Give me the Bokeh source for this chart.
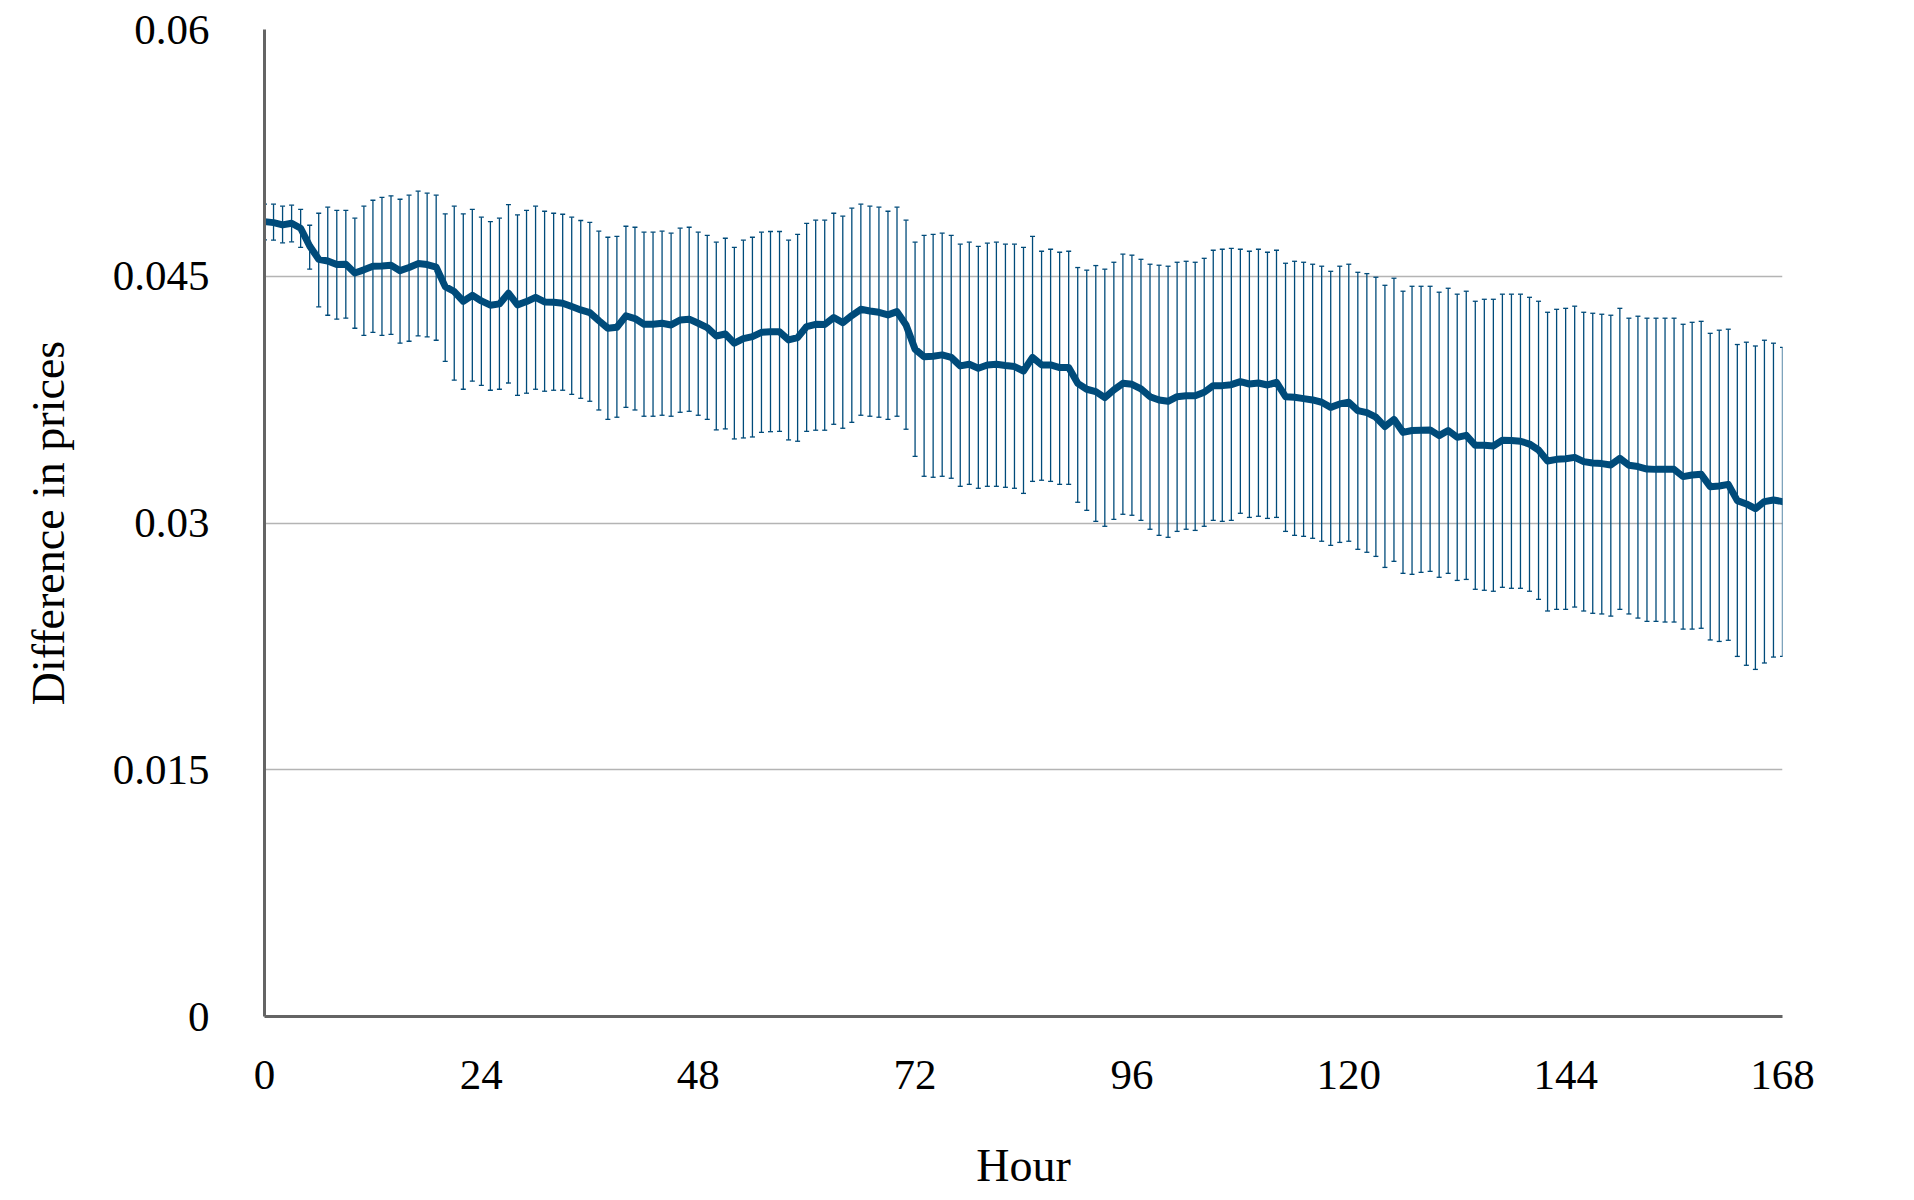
from bokeh.plotting import figure
from bokeh.models import ColumnDataSource, Whisker, TeeHead, FixedTicker, Range1d
from bokeh.embed import file_html
from bokeh.resources import INLINE

hours = list(range(169))

mean_diff = [
    0.04832, 0.04826, 0.04812, 0.04822, 0.04792, 0.04684, 0.04603, 0.04593, 0.04571, 0.04573,
    0.04520, 0.04539, 0.04561, 0.04563, 0.04567, 0.04534, 0.04553, 0.04577, 0.04571, 0.04555,
    0.04437, 0.04407, 0.04348, 0.04384, 0.04350, 0.04324, 0.04332, 0.04397, 0.04326, 0.04346,
    0.04372, 0.04344, 0.04342, 0.04336, 0.04316, 0.04295, 0.04279, 0.04230, 0.04184, 0.04190,
    0.04259, 0.04243, 0.04208, 0.04208, 0.04214, 0.04204, 0.04234, 0.04239, 0.04214, 0.04188,
    0.04137, 0.04149, 0.04093, 0.04121, 0.04133, 0.04159, 0.04162, 0.04162, 0.04113, 0.04127,
    0.04194, 0.04208, 0.04206, 0.04249, 0.04218, 0.04261, 0.04299, 0.04289, 0.04281, 0.04265,
    0.04285, 0.04204, 0.04056, 0.04011, 0.04014, 0.04022, 0.04007, 0.03955, 0.03965, 0.03941,
    0.03961, 0.03965, 0.03957, 0.03951, 0.03924, 0.04007, 0.03961, 0.03961, 0.03945, 0.03945,
    0.03849, 0.03813, 0.03799, 0.03762, 0.03809, 0.03849, 0.03843, 0.03815, 0.03768, 0.03748,
    0.03740, 0.03768, 0.03774, 0.03774, 0.03795, 0.03835, 0.03835, 0.03841, 0.03859, 0.03845,
    0.03851, 0.03839, 0.03855, 0.03768, 0.03764, 0.03756, 0.03748, 0.03734, 0.03703, 0.03724,
    0.03734, 0.03683, 0.03671, 0.03643, 0.03586, 0.03630, 0.03551, 0.03562, 0.03564, 0.03566,
    0.03531, 0.03562, 0.03521, 0.03533, 0.03472, 0.03472, 0.03468, 0.03503, 0.03501, 0.03497,
    0.03480, 0.03444, 0.03377, 0.03387, 0.03391, 0.03399, 0.03373, 0.03365, 0.03361, 0.03353,
    0.03393, 0.03351, 0.03343, 0.03328, 0.03326, 0.03326, 0.03326, 0.03282, 0.03292, 0.03296,
    0.03221, 0.03225, 0.03235, 0.03136, 0.03116, 0.03087, 0.03130, 0.03140, 0.03130,
]

upper_diff = [
    0.04938, 0.04938, 0.04926, 0.04932, 0.04907, 0.04810, 0.04883, 0.04920, 0.04901, 0.04901,
    0.04853, 0.04926, 0.04962, 0.04980, 0.04989, 0.04968, 0.04993, 0.05017, 0.05005, 0.04993,
    0.04879, 0.04926, 0.04879, 0.04907, 0.04859, 0.04832, 0.04853, 0.04936, 0.04873, 0.04901,
    0.04926, 0.04895, 0.04883, 0.04877, 0.04859, 0.04839, 0.04828, 0.04774, 0.04737, 0.04743,
    0.04804, 0.04798, 0.04768, 0.04768, 0.04774, 0.04762, 0.04792, 0.04798, 0.04768, 0.04749,
    0.04707, 0.04731, 0.04676, 0.04719, 0.04737, 0.04768, 0.04772, 0.04772, 0.04719, 0.04755,
    0.04822, 0.04841, 0.04841, 0.04883, 0.04865, 0.04914, 0.04938, 0.04926, 0.04920, 0.04895,
    0.04920, 0.04841, 0.04707, 0.04749, 0.04755, 0.04762, 0.04749, 0.04695, 0.04707, 0.04682,
    0.04701, 0.04707, 0.04695, 0.04695, 0.04676, 0.04743, 0.04652, 0.04664, 0.04646, 0.04652,
    0.04553, 0.04537, 0.04565, 0.04543, 0.04585, 0.04634, 0.04628, 0.04603, 0.04573, 0.04567,
    0.04561, 0.04585, 0.04591, 0.04585, 0.04609, 0.04658, 0.04664, 0.04670, 0.04664, 0.04652,
    0.04664, 0.04646, 0.04658, 0.04579, 0.04591, 0.04585, 0.04573, 0.04561, 0.04530, 0.04561,
    0.04573, 0.04524, 0.04516, 0.04494, 0.04445, 0.04488, 0.04409, 0.04439, 0.04439, 0.04439,
    0.04403, 0.04427, 0.04391, 0.04409, 0.04348, 0.04360, 0.04360, 0.04391, 0.04391, 0.04391,
    0.04372, 0.04348, 0.04281, 0.04299, 0.04305, 0.04318, 0.04281, 0.04275, 0.04269, 0.04263,
    0.04305, 0.04245, 0.04257, 0.04245, 0.04245, 0.04245, 0.04245, 0.04208, 0.04220, 0.04226,
    0.04153, 0.04172, 0.04178, 0.04085, 0.04099, 0.04076, 0.04111, 0.04093, 0.04068,
]

lower_diff = [
    0.04721, 0.04719, 0.04703, 0.04709, 0.04676, 0.04543, 0.04314, 0.04263, 0.04239, 0.04245,
    0.04184, 0.04141, 0.04159, 0.04141, 0.04147, 0.04093, 0.04105, 0.04137, 0.04131, 0.04111,
    0.03983, 0.03868, 0.03813, 0.03862, 0.03837, 0.03807, 0.03813, 0.03851, 0.03776, 0.03789,
    0.03813, 0.03801, 0.03807, 0.03807, 0.03782, 0.03758, 0.03740, 0.03687, 0.03630, 0.03643,
    0.03703, 0.03687, 0.03649, 0.03649, 0.03655, 0.03649, 0.03673, 0.03679, 0.03655, 0.03630,
    0.03566, 0.03572, 0.03511, 0.03517, 0.03523, 0.03551, 0.03555, 0.03557, 0.03505, 0.03497,
    0.03557, 0.03564, 0.03564, 0.03600, 0.03576, 0.03612, 0.03655, 0.03649, 0.03643, 0.03630,
    0.03649, 0.03570, 0.03405, 0.03284, 0.03278, 0.03284, 0.03272, 0.03223, 0.03235, 0.03211,
    0.03223, 0.03223, 0.03217, 0.03211, 0.03180, 0.03253, 0.03260, 0.03253, 0.03235, 0.03235,
    0.03126, 0.03077, 0.03010, 0.02980, 0.03022, 0.03053, 0.03047, 0.03016, 0.02962, 0.02925,
    0.02913, 0.02949, 0.02962, 0.02955, 0.02980, 0.03016, 0.03010, 0.03016, 0.03059, 0.03034,
    0.03041, 0.03028, 0.03034, 0.02949, 0.02925, 0.02919, 0.02907, 0.02889, 0.02864, 0.02882,
    0.02889, 0.02840, 0.02822, 0.02797, 0.02730, 0.02767, 0.02694, 0.02688, 0.02700, 0.02706,
    0.02670, 0.02694, 0.02651, 0.02657, 0.02597, 0.02591, 0.02585, 0.02609, 0.02603, 0.02603,
    0.02585, 0.02536, 0.02465, 0.02475, 0.02475, 0.02489, 0.02465, 0.02451, 0.02447, 0.02434,
    0.02475, 0.02447, 0.02422, 0.02402, 0.02402, 0.02398, 0.02398, 0.02355, 0.02355, 0.02360,
    0.02289, 0.02280, 0.02287, 0.02189, 0.02135, 0.02110, 0.02149, 0.02185, 0.02189,
]

x_ticks = [0, 24, 48, 72, 96, 120, 144, 168]
y_ticks = [0, 0.015, 0.03, 0.045, 0.06]
y_tick_labels = ["0", "0.015", "0.03", "0.045", "0.06"]

LINE_COLOR = "#004b7a"
FONT = "Liberation Serif"

src = ColumnDataSource(data=dict(hour=hours, mean=mean_diff, upper=upper_diff, lower=lower_diff))

p = figure(
    width=1900, height=1193,
    x_range=Range1d(0, 168), y_range=Range1d(0, 0.06),
    output_backend="svg", toolbar_location=None,
    min_border_left=264, min_border_right=118,
    min_border_top=29, min_border_bottom=176,
)
p.outline_line_color = None
p.background_fill_color = "white"
p.border_fill_color = "white"

whisk = Whisker(
    base="hour", upper="upper", lower="lower", source=src, dimension="height",
    line_color=LINE_COLOR, line_width=1.3,
    upper_head=TeeHead(size=5, line_color=LINE_COLOR, line_width=1.3),
    lower_head=TeeHead(size=5, line_color=LINE_COLOR, line_width=1.3),
)
p.add_layout(whisk)

p.line("hour", "mean", source=src, line_color=LINE_COLOR, line_width=7,
       line_join="round", line_cap="round")

# grid
p.xgrid.grid_line_color = None
p.ygrid.grid_line_color = "#b4b4b4"
p.ygrid.grid_line_width = 1.3
p.ygrid.ticker = FixedTicker(ticks=y_ticks)

# axes
p.xaxis.ticker = FixedTicker(ticks=x_ticks)
p.yaxis.ticker = FixedTicker(ticks=y_ticks)
p.yaxis.major_label_overrides = {t: l for t, l in zip(y_ticks, y_tick_labels)}

for ax in (p.xaxis[0], p.yaxis[0]):
    ax.axis_line_color = "#646464"
    ax.axis_line_width = 3
    ax.major_tick_line_color = None
    ax.minor_tick_line_color = None
    ax.major_tick_in = 0
    ax.major_tick_out = 0
    ax.minor_tick_in = 0
    ax.minor_tick_out = 0
    ax.major_label_text_font = FONT
    ax.major_label_text_font_size = "43px"
    ax.major_label_text_color = "black"
    ax.axis_label_text_font = FONT
    ax.axis_label_text_font_size = "46px"
    ax.axis_label_text_font_style = "normal"
    ax.axis_label_text_color = "black"

p.xaxis.axis_label = "Hour"
p.yaxis.axis_label = "Difference in prices"
p.xaxis.major_label_standoff = 44
p.xaxis.axis_label_standoff = 48
p.yaxis.major_label_standoff = 55
p.yaxis.axis_label_standoff = 36

open("out.html", "w").write(file_html(p, INLINE))
